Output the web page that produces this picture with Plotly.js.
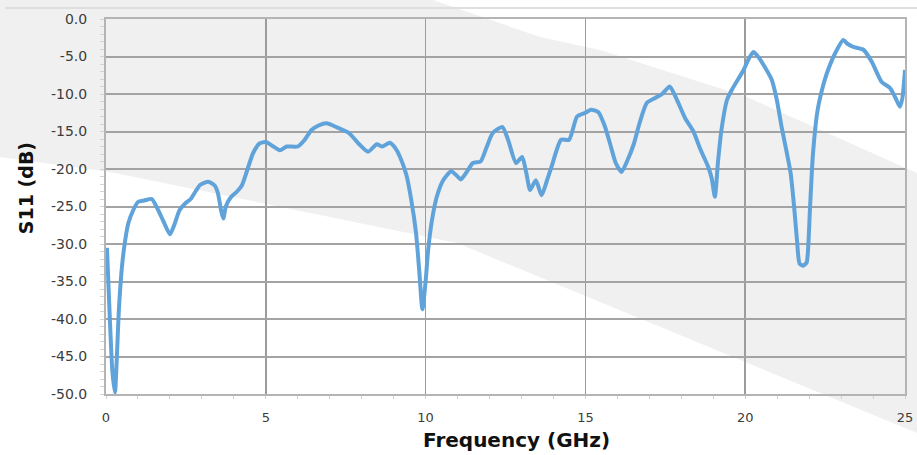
<!DOCTYPE html>
<html>
<head>
<meta charset="utf-8">
<script src="https://cdn.plot.ly/plotly-3.0.1.min.js"></script>
<style>html,body{margin:0;padding:0;background:#fff;}#chart{width:917px;height:455px;}</style>
</head>
<body>
<div id="chart"></div>
<script>
// Frequency (GHz)
const freq = [0.03,0.12,0.2,0.28,0.34,0.4,0.5,0.6,0.7,0.85,1.0,1.2,1.43,1.6,1.8,2.0,2.15,2.3,2.5,2.65,2.8,2.95,3.2,3.4,3.5,3.6,3.67,3.75,3.9,4.1,4.25,4.4,4.6,4.8,5.0,5.2,5.44,5.65,6.0,6.2,6.43,6.65,6.9,7.2,7.6,7.9,8.2,8.47,8.65,8.88,9.05,9.2,9.4,9.55,9.7,9.8,9.9,10.0,10.08,10.2,10.35,10.55,10.8,11.0,11.1,11.3,11.48,11.72,11.9,12.1,12.4,12.58,12.83,13.02,13.15,13.27,13.45,13.63,13.8,13.94,14.24,14.49,14.74,15.0,15.17,15.4,15.6,15.77,15.95,16.13,16.3,16.52,16.7,16.92,17.2,17.4,17.64,17.8,17.96,18.13,18.37,18.59,18.84,18.95,19.05,19.15,19.25,19.43,19.6,19.95,20.1,20.26,20.4,20.57,20.83,20.99,21.14,21.3,21.42,21.53,21.62,21.7,21.8,21.92,21.97,22.03,22.12,22.26,22.4,22.55,22.81,23.07,23.2,23.37,23.7,23.96,24.27,24.53,24.7,24.84,24.92,25.0];
// S11 (dB)
const s11 = [-30.5,-40,-47,-49.8,-45,-39,-33,-29.5,-27.2,-25.5,-24.4,-24.2,-24.0,-25.2,-27,-28.7,-27.3,-25.5,-24.5,-24.0,-23.0,-22.1,-21.7,-22.2,-23.2,-25.5,-26.6,-25.0,-23.8,-23.0,-22.2,-20.4,-17.9,-16.6,-16.4,-16.9,-17.5,-17.0,-17.0,-16.2,-14.8,-14.2,-13.9,-14.4,-15.2,-16.6,-17.7,-16.7,-17.0,-16.5,-17.2,-18.4,-20.8,-24.1,-28.5,-33.5,-38.7,-35,-30.8,-26.8,-23.7,-21.5,-20.3,-21.0,-21.4,-20.3,-19.2,-19.0,-17.2,-15.2,-14.4,-16.1,-19.2,-18.4,-20.5,-22.8,-21.5,-23.5,-21.5,-19.7,-16.1,-16.1,-13.0,-12.5,-12.1,-12.4,-14.2,-16.6,-19.2,-20.4,-19.0,-16.6,-13.8,-11.2,-10.5,-10.0,-9.0,-10.2,-11.7,-13.3,-14.9,-17.3,-19.7,-21.2,-23.7,-19,-15.0,-10.8,-9.3,-6.8,-5.4,-4.4,-5.0,-6.1,-8.1,-10.8,-14.4,-17.8,-20.5,-25,-29.5,-32.6,-32.9,-32.5,-30.5,-25,-18,-12.3,-9.5,-7.3,-4.6,-2.8,-3.3,-3.7,-4.1,-5.7,-8.4,-9.2,-10.5,-11.7,-10.5,-6.8];

const yTickVals = [0,-5,-10,-15,-20,-25,-30,-35,-40,-45,-50];
const yTickText = ["0.0","-5.0","-10.0","-15.0","-20.0","-25.0","-30.0","-35.0","-40.0","-45.0","-50.0"];
const xTickVals = [0,5,10,15,20,25];
const xTickText = ["0","5","10","15","20","25"];

// background decoration (scan shading), in page pixels -> paper coords
const W = 917, H = 455, L = 106, R = 12, T = 19, B = 61;
const pw = W - L - R, ph = H - T - B;
function px(x){ return ((x - L) / pw).toFixed(4); }
function py(y){ return ((H - B - y) / ph).toFixed(4); }
function poly(pts){ return pts.map((p,i)=>(i?'L':'M')+px(p[0])+','+py(p[1])).join(' ')+' Z'; }
const band = [[0,0],[433,0],[540,37],[600,50],[747,97],[917,173],[917,433],[457,243],[110,172],[0,157]];

const shapes = [
  {type:'path', xref:'paper', yref:'paper', path: poly(band), fillcolor:'#f0f0f0', line:{width:0}, layer:'below'},
  {type:'line', xref:'paper', yref:'paper', x0:px(5), x1:px(917), y0:py(8), y1:py(8), line:{color:'#dedede', width:2}, layer:'below'}
];

const trace = {
  x: freq, y: s11, type:'scatter', mode:'lines',
  line:{color:'#60a3da', width:4, shape:'spline', smoothing:0.6},
  hoverinfo:'skip', showlegend:false
};

const tickFont = {family:'DejaVu Sans', size:14, color:'#3c3c3c'};
const layout = {
  width: W, height: H,
  margin:{l:L, r:R, t:T, b:B, pad:0},
  paper_bgcolor:'#ffffff', plot_bgcolor:'rgba(0,0,0,0)',
  showlegend:false,
  xaxis:{range:[0,25], tickmode:'array', tickvals:xTickVals, ticktext:xTickText,
    showgrid:true, gridcolor:'#9c9c9c', gridwidth:1.5, zeroline:false,
    showline:true, linecolor:'#b4b4b4', linewidth:2, mirror:true,
    ticks:'', tickfont:{family:'DejaVu Sans', size:13, color:'#3c3c3c'}, ticklabelstandoff:10,
    minor:{dtick:1, ticks:'outside', ticklen:3, tickcolor:'#cfcfcf', showgrid:false}},
  yaxis:{range:[-50,0], tickmode:'array', tickvals:yTickVals, ticktext:yTickText,
    showgrid:true, gridcolor:'#a3a3a3', gridwidth:2, zeroline:false,
    showline:true, linecolor:'#b4b4b4', linewidth:2, mirror:true,
    ticks:'', tickfont:tickFont, ticklabelstandoff:14,
    minor:{dtick:1, ticks:'outside', ticklen:4, tickcolor:'#d4d4d4', showgrid:false}},
  shapes: shapes,
  annotations:[
    {text:'Frequency (GHz)', xref:'paper', yref:'paper', x:0.514, y:-0.1227, xanchor:'center', yanchor:'middle',
     showarrow:false, font:{family:'DejaVu Sans', size:20, color:'#111111', weight:'bold'}},
    {text:'S11 (dB)', xref:'paper', yref:'paper', x:-0.1001, y:0.549, xanchor:'center', yanchor:'middle', textangle:-90,
     showarrow:false, font:{family:'DejaVu Sans', size:19, color:'#111111', weight:'bold'}}
  ]
};

Plotly.newPlot('chart', [trace], layout, {displayModeBar:false, staticPlot:true});
</script>
</body>
</html>
